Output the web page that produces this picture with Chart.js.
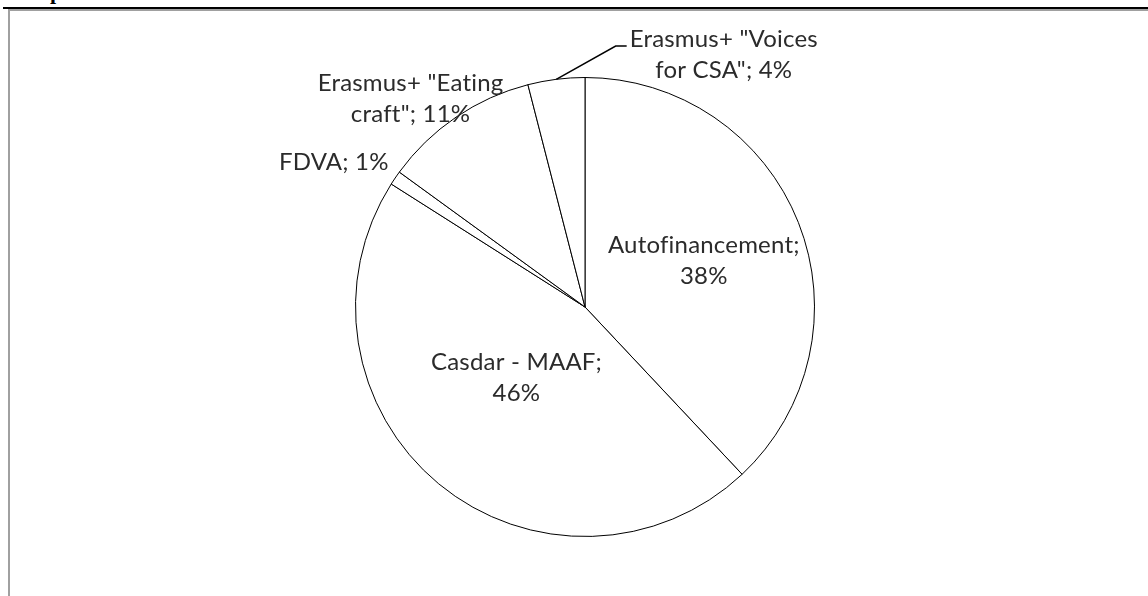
<!DOCTYPE html>
<html>
<head>
<meta charset="utf-8">
<script src="https://cdn.jsdelivr.net/npm/chart.js@4/dist/chart.umd.min.js"></script>
<style>
  html, body { margin: 0; padding: 0; background: #fff; }
  body { width: 1148px; height: 596px; position: relative; overflow: hidden; }
  #cut { position: absolute; left: 50px; top: -19px; font: bold 22px/22px "Liberation Serif", serif; color: #000; }
  #topline { position: absolute; left: 3px; right: 0; top: 7px; height: 2px; background: #000; }
  #grayTop { position: absolute; left: 8px; right: 0; top: 9px; height: 2px; background: #a0a0a0; }
  #grayLeft { position: absolute; left: 8px; top: 9px; width: 2px; bottom: 0; background: #a0a0a0; }
  #wrap { position: absolute; left: 0; top: 0; width: 1148px; height: 596px; }
</style>
</head>
<body>
<div id="cut">p</div>
<div id="topline"></div>
<div id="grayTop"></div>
<div id="grayLeft"></div>
<div id="wrap"><canvas id="pie" width="1148" height="596"></canvas></div>
<script>
// data
const categories = ['Autofinancement', 'Casdar - MAAF', 'FDVA', 'Erasmus+ "Eating craft"', 'Erasmus+ "Voices for CSA"'];
const values = [38, 46, 1, 11, 4];

// where each label sits: radius factor and angle shift (deg) from the slice middle
const labelPlace = [
    { r: 0.555, da: 0.5 },
    { r: 0.43, da: 4.4 },
    { r: 1.264, da: -4.2 },
    { r: 1.185, da: -5.7 },
    { r: 1.255, da: 36, leader: true }
];

function wrapText(ctx, text, maxW) {
    const words = text.split(' ');
    const lines = [];
    let cur = '';
    words.forEach(w => {
        const t = cur ? cur + ' ' + w : w;
        if (cur && ctx.measureText(t).width > maxW) {
            lines.push(cur);
            cur = w;
        } else {
            cur = t;
        }
    });
    if (cur) lines.push(cur);
    return lines;
}

const sliceLabels = {
    id: 'sliceLabels',
    afterDatasetsDraw(chart) {
        const ctx = chart.ctx;
        const meta = chart.getDatasetMeta(0);
        const lh = 31;
        ctx.save();
        ctx.font = '24px Lato';
        ctx.letterSpacing = '0.2px'; // no fi ligature
        ctx.fillStyle = '#2b2b2b';
        ctx.textAlign = 'center';
        ctx.textBaseline = 'middle';
        meta.data.forEach((arc, i) => {
            const p = arc.getProps(['x', 'y', 'startAngle', 'endAngle', 'outerRadius'], true);
            const mid = (p.startAngle + p.endAngle) / 2;
            const place = labelPlace[i];
            const a = mid + place.da * Math.PI / 180;
            const lx = p.x + Math.cos(a) * p.outerRadius * place.r;
            const ly = p.y + Math.sin(a) * p.outerRadius * place.r;
            const lines = wrapText(ctx, categories[i] + '; ' + values[i] + '%', 210);
            lines.forEach((t, k) => {
                ctx.fillText(t, lx, ly + (k - (lines.length - 1) / 2) * lh);
            });
            if (place.leader) {
                const w1 = ctx.measureText(lines[0]).width;
                const left = lx - w1 / 2;
                const yy = ly - (lines.length - 1) / 2 * lh + 7;
                ctx.beginPath();
                ctx.strokeStyle = '#000';
                ctx.lineWidth = 1.5;
                ctx.moveTo(p.x + Math.cos(mid) * p.outerRadius, p.y + Math.sin(mid) * p.outerRadius);
                ctx.lineTo(left - 14, yy);
                ctx.lineTo(left - 3, yy);
                ctx.stroke();
            }
        });
        ctx.restore();
    }
};

new Chart(document.getElementById('pie'), {
    type: 'pie',
    data: {
        labels: categories,
        datasets: [{
            data: values,
            backgroundColor: '#ffffff',
            borderColor: '#000000',
            borderWidth: 1,
            hoverOffset: 0
        }]
    },
    options: {
        responsive: false,
        animation: false,
        devicePixelRatio: 1,
        layout: { padding: { left: 355, right: 333, top: 77, bottom: 59 } },
        plugins: {
            legend: { display: false },
            tooltip: { enabled: false },
            title: { display: false }
        }
    },
    plugins: [sliceLabels]
});
</script>
</body>
</html>
